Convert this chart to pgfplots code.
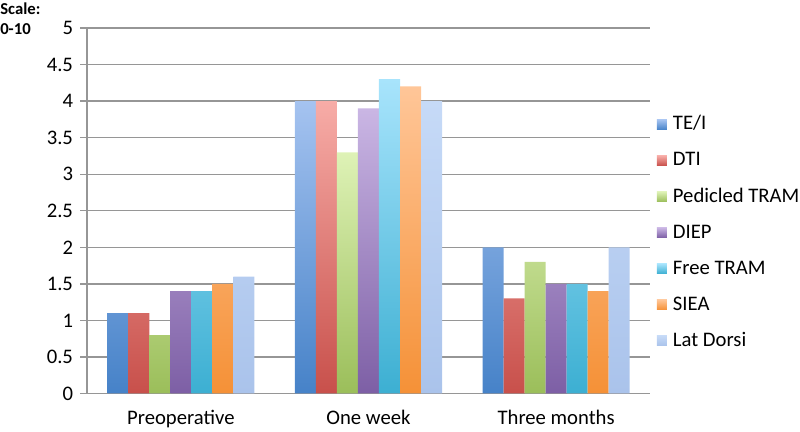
\documentclass[border=0pt]{standalone}
\usepackage{pgfplots}
\pgfplotsset{compat=1.18}
\usepackage{fontspec}
\setmainfont{Carlito}
\usetikzlibrary{calc}
\definecolor{gridc}{RGB}{150,150,150}
\definecolor{c1t}{RGB}{165,195,240}\definecolor{c1b}{RGB}{70,130,200}
\definecolor{c2t}{RGB}{247,172,167}\definecolor{c2b}{RGB}{200,80,75}
\definecolor{c3t}{RGB}{222,242,182}\definecolor{c3b}{RGB}{155,190,90}
\definecolor{c4t}{RGB}{202,182,228}\definecolor{c4b}{RGB}{125,95,165}
\definecolor{c5t}{RGB}{168,228,252}\definecolor{c5b}{RGB}{60,175,210}
\definecolor{c6t}{RGB}{255,198,152}\definecolor{c6b}{RGB}{245,145,55}
\definecolor{c7t}{RGB}{198,218,247}\definecolor{c7b}{RGB}{170,195,235}
\begin{document}
\begin{tikzpicture}
\begin{axis}[name=ax,
  width=422pt, height=274pt, scale only axis,
  ybar=0pt, bar width=15.75pt,
  xmin=-0.5, xmax=2.5, ymin=0, ymax=5,
  ytick={0,0.5,1,1.5,2,2.5,3,3.5,4,4.5,5},
  xtick={0,1,2}, xticklabels={Preoperative,One week,Three months},
  x tick style={draw=none},
  extra x ticks={-0.5,0.5,1.5,2.5}, extra x tick labels={},
  extra x tick style={grid=none, tick style={draw=gridc, line width=1pt}},
  tick align=outside, major tick length=5pt,
  y tick style={draw=gridc, line width=1pt},
  axis x line*=bottom, axis y line*=left,
  axis line style={draw=gridc, line width=1.1pt},
  ymajorgrids, grid style={draw=gridc, line width=1pt},
  /pgf/number format/assume math mode=true,
  /pgf/number format/fixed,
  tick label style={font=\fontsize{15.5}{18}\selectfont, text=black},
  yticklabel style={xshift=-2pt},
  xticklabel style={yshift=-4pt},
  legend style={at={(1.012,0.44)}, anchor=west, draw=none, fill=none, inner sep=0pt,
    font=\fontsize{15.5}{18}\selectfont, row sep=13pt,
    nodes={inner sep=0pt, text height=11pt, text depth=3pt}},
  legend cell align=left,
  legend image code/.code={\path[#1, draw=none] (0pt,-3.75pt) rectangle (7.5pt,3.75pt); \path (7.5pt,0) -- (12pt,0);},
]
\addplot[draw=none, top color=c1t, bottom color=c1b] coordinates {(0,1.1) (1,4.0) (2,2.0)};
\addplot[draw=none, top color=c2t, bottom color=c2b] coordinates {(0,1.1) (1,4.0) (2,1.3)};
\addplot[draw=none, top color=c3t, bottom color=c3b] coordinates {(0,0.8) (1,3.3) (2,1.8)};
\addplot[draw=none, top color=c4t, bottom color=c4b] coordinates {(0,1.4) (1,3.9) (2,1.5)};
\addplot[draw=none, top color=c5t, bottom color=c5b] coordinates {(0,1.4) (1,4.3) (2,1.5)};
\addplot[draw=none, top color=c6t, bottom color=c6b] coordinates {(0,1.5) (1,4.2) (2,1.4)};
\addplot[draw=none, top color=c7t, bottom color=c7b] coordinates {(0,1.6) (1,4.0) (2,2.0)};
\legend{TE/I,DTI,Pedicled TRAM,DIEP,Free TRAM,SIEA,Lat Dorsi}
\end{axis}
\node[anchor=north west, align=left, inner sep=0pt, font=\bfseries\fontsize{12.5}{15}\selectfont]
  at ($(ax.north west)+(-65.25pt,19pt)$) {Scale:\\0-10};
\pgfresetboundingbox
\path[use as bounding box] ($(ax.south west)+(-65.25pt,-28.5pt)$) rectangle ($(ax.north east)+(112.5pt,21pt)$);
\end{tikzpicture}
\end{document}
